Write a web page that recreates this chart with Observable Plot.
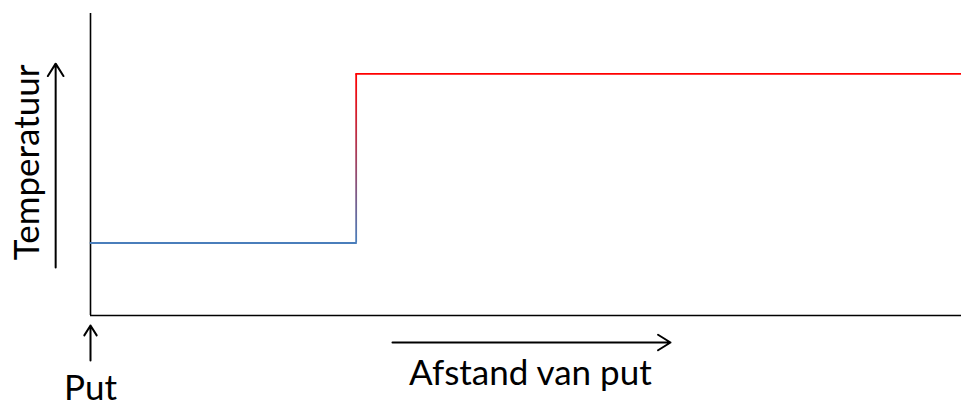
<!DOCTYPE html>
<html>
<head>
<meta charset="utf-8">
<script src="https://cdn.jsdelivr.net/npm/d3@7"></script>
<script src="https://cdn.jsdelivr.net/npm/@observablehq/plot@0.6"></script>
<style>
  html, body { margin: 0; padding: 0; background: #fff; }
  #chart svg { display: block; }
</style>
</head>
<body>
<div id="chart"></div>
<script>
// Distance from the well (arbitrary units) where the temperature steps
const afstand = [0, 3.05, 10];
// Temperature levels (arbitrary units): before and after the step
const temperatuur = [2.4, 8.0];
const seriesColors = ["#4a7ebb", "#ff0000"];

// Annotation texts and arrows (data units)
const textLabels = ["Temperatuur", "Afstand van put", "Put"];
const textX = [-0.72, 5.05, 0];
const textY = [5.07, -1.92, -2.42];
const textRotate = [-90, 0, 0];
const arrowX1 = [-0.40, 0, 3.467];
const arrowY1 = [1.59, -1.49, -0.894];
const arrowX2 = [-0.40, 0, 6.659];
const arrowY2 = [8.34, -0.33, -0.894];

const lowSeg = [{x: afstand[0], y: temperatuur[0]}, {x: afstand[1], y: temperatuur[0]}];
const highSeg = [{x: afstand[1], y: temperatuur[1]}, {x: afstand[2], y: temperatuur[1]}];
const stepRule = [{x: afstand[1], y1: temperatuur[0], y2: temperatuur[1]}];
const texts = textLabels.map((t, i) => ({t, x: textX[i], y: textY[i], r: textRotate[i]}));
const arrows = arrowX1.map((_, i) => ({x1: arrowX1[i], y1: arrowY1[i], x2: arrowX2[i], y2: arrowY2[i]}));

const font = "Lato, 'Open Sans', 'Liberation Sans', sans-serif";

const chart = Plot.plot({
  width: 961,
  height: 405,
  marginLeft: 90,
  marginRight: 0,
  marginTop: 13,
  marginBottom: 90,
  x: {domain: [0, 10], axis: null},
  y: {domain: [0, 10], axis: null},
  style: {fontFamily: font, background: "#fff", overflow: "visible"},
  marks: [
    Plot.ruleX([0], {stroke: "#000", strokeWidth: 1.6}),
    Plot.ruleY([0], {stroke: "#000", strokeWidth: 1.6}),
    Plot.line(lowSeg, {x: "x", y: "y", stroke: seriesColors[0], strokeWidth: 1.8}),
    Plot.ruleX(stepRule, {x: "x", y1: "y1", y2: "y2", stroke: "url(#stepGrad)", strokeWidth: 1.8}),
    Plot.line(highSeg, {x: "x", y: "y", stroke: seriesColors[1], strokeWidth: 1.8}),
    Plot.arrow(arrows, {x1: "x1", y1: "y1", x2: "x2", y2: "y2", stroke: "#000", strokeWidth: 2, headLength: 11, headAngle: 64, bend: 0}),
    Plot.text(texts.filter(d => d.r !== 0), {x: "x", y: "y", text: "t", rotate: -90, fontSize: 35, fill: "#000"}),
    Plot.text(texts.filter(d => d.r === 0), {x: "x", y: "y", text: "t", fontSize: 35, fill: "#000"})
  ]
});

// vertical gradient for the step from blue (bottom) to red (top)
const ys = chart.scale("y");
const svgNS = "http://www.w3.org/2000/svg";
const defs = document.createElementNS(svgNS, "defs");
const grad = document.createElementNS(svgNS, "linearGradient");
grad.setAttribute("id", "stepGrad");
grad.setAttribute("gradientUnits", "userSpaceOnUse");
grad.setAttribute("x1", 0); grad.setAttribute("x2", 0);
grad.setAttribute("y1", ys.apply(temperatuur[0]));
grad.setAttribute("y2", ys.apply(temperatuur[1]));
[[0, seriesColors[0]], [1, seriesColors[1]]].forEach(([o, c]) => {
  const s = document.createElementNS(svgNS, "stop");
  s.setAttribute("offset", o);
  s.setAttribute("stop-color", c);
  grad.appendChild(s);
});
defs.appendChild(grad);
chart.insertBefore(defs, chart.firstChild);

document.getElementById("chart").appendChild(chart);
</script>
</body>
</html>
